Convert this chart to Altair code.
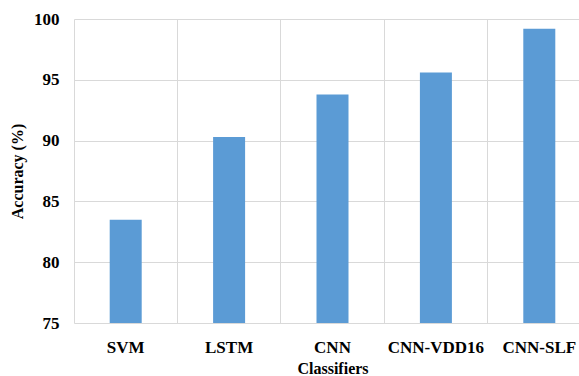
import altair as alt
import pandas as pd

classifiers = ["SVM", "LSTM", "CNN", "CNN-VDD16", "CNN-SLF"]
accuracy = [83.5, 90.3, 93.8, 95.6, 99.2]

df = pd.DataFrame({"Classifier": classifiers, "Accuracy": accuracy})

FONT = "Liberation Serif"

chart = alt.Chart(df).mark_bar(width=32, color="#5B9BD5", clip=True).encode(
    x=alt.X("Classifier:N", sort=classifiers,
            scale=alt.Scale(paddingInner=0, paddingOuter=0, range=[0, 517]),
            axis=alt.Axis(title="Classifiers", labelAngle=0, grid=True,
                          bandPosition=0, ticks=False, domain=False,
                          labelPadding=16, titlePadding=5)),
    y=alt.Y("Accuracy:Q",
            scale=alt.Scale(domain=[75, 100], nice=False, zero=False),
            axis=alt.Axis(title="Accuracy (%)", values=[75, 80, 85, 90, 95, 100],
                          ticks=False, domain=False, labelPadding=15,
                          titlePadding=8)),
).properties(
    width=505, height=304,
    autosize=alt.AutoSizeParams(type="none"),
    padding={"left": 74, "top": 19, "right": 0, "bottom": 53},
).configure_axis(
    labelFont=FONT, labelFontSize=17, labelFontWeight="bold", labelColor="#000000",
    titleFont=FONT, titleFontSize=16, titleFontWeight="bold", titleColor="#000000",
    gridColor="#D9D9D9", gridWidth=1,
).configure_view(stroke=None)

chart.save("out.html", embed_options={"renderer": "svg", "actions": False})
